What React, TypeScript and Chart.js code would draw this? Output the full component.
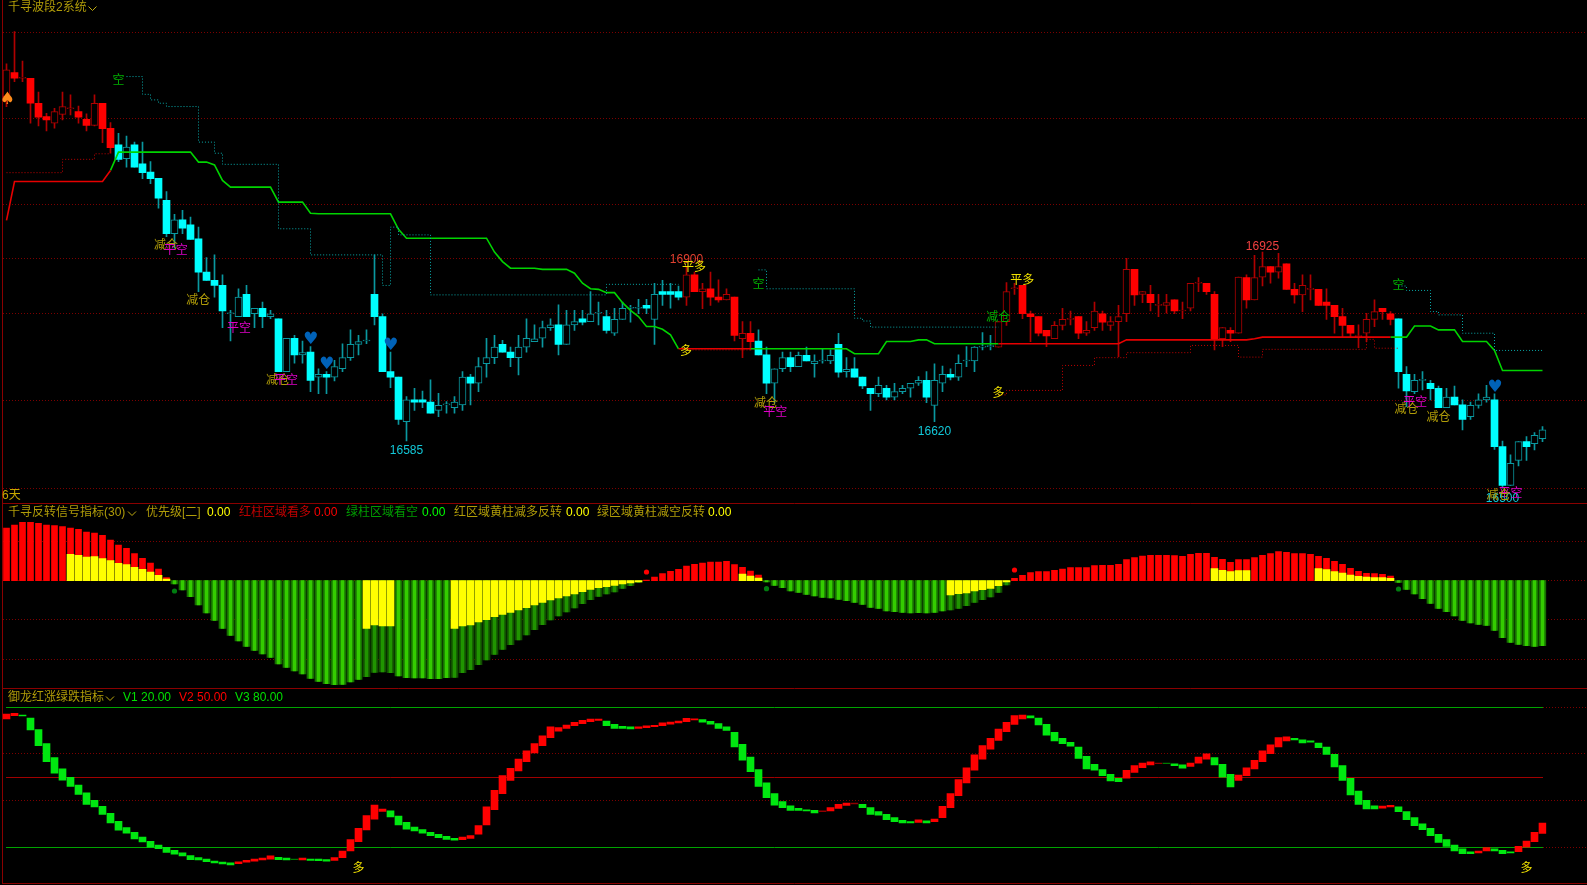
import React, { useEffect, useRef } from "react";
import { Chart, registerables } from "chart.js";

Chart.register(...registerables);

const opens = [17205,17248,17238,17238,17193,17169,17157,17173,17183,17178,17164,17153,17193,17148,17118,17093,17118,17084,17069,17058,17018,16958,16983,16974,16949,16889,16874,16865,16814,16809,16849,16814,16824,16809,16805,16710,16770,16740,16745,16700,16705,16700,16715,16735,16759,16765,16849,16809,16710,16700,16620,16659,16659,16655,16640,16650,16645,16650,16700,16689,16724,16735,16759,16745,16735,16754,16764,16770,16789,16794,16759,16794,16805,16800,16815,16809,16779,16804,16824,16824,16829,16804,16854,16854,16854,16844,16884,16854,16859,16844,16839,16844,16769,16779,16765,16740,16689,16715,16735,16719,16739,16724,16729,16729,16759,16710,16715,16700,16680,16670,16680,16664,16674,16680,16689,16694,16649,16689,16705,16700,16729,16729,16754,16755,16754,16800,16859,16865,16814,16809,16784,16769,16793,16804,16809,16779,16789,16814,16793,16800,16814,16894,16849,16849,16829,16829,16839,16819,16824,16869,16869,16849,16769,16784,16779,16879,16839,16880,16899,16889,16904,16858,16848,16858,16858,16835,16829,16809,16793,16773,16779,16804,16824,16814,16805,16705,16674,16694,16689,16680,16645,16664,16650,16629,16649,16659,16659,16575,16505,16550,16584,16580,16589];
const closes = [17253,17238,17238,17193,17168,17163,17178,17187,17183,17168,17153,17193,17147,17113,17092,17114,17078,17068,17057,17022,16958,16983,16968,16948,16889,16874,16865,16819,16814,16844,16809,16824,16809,16814,16710,16770,16740,16744,16694,16705,16700,16719,16735,16759,16764,16765,16809,16710,16700,16624,16659,16655,16655,16635,16649,16650,16655,16700,16689,16719,16735,16754,16745,16735,16754,16770,16769,16789,16794,16759,16794,16800,16799,16814,16815,16784,16804,16824,16824,16824,16824,16849,16849,16849,16844,16884,16854,16859,16844,16839,16849,16775,16779,16764,16740,16689,16715,16735,16719,16739,16729,16729,16729,16739,16709,16714,16700,16684,16670,16685,16664,16674,16680,16689,16694,16664,16694,16705,16700,16725,16729,16754,16754,16755,16800,16854,16859,16814,16809,16779,16774,16793,16804,16804,16779,16784,16819,16799,16800,16809,16894,16848,16854,16834,16829,16834,16819,16819,16869,16869,16854,16769,16789,16779,16880,16839,16879,16899,16889,16899,16858,16848,16865,16858,16829,16829,16809,16793,16779,16773,16804,16818,16818,16804,16710,16675,16694,16694,16679,16645,16664,16650,16624,16649,16659,16664,16575,16505,16545,16584,16575,16595,16605];
const highs = [17264,17322,17269,17238,17213,17175,17184,17213,17208,17188,17174,17208,17193,17158,17139,17134,17123,17123,17088,17058,17034,16993,17000,16988,16970,16915,16920,16884,16820,16859,16865,16824,16835,16820,16805,16770,16775,16765,16755,16715,16710,16730,16760,16785,16775,16785,16920,16814,16745,16700,16665,16680,16675,16695,16671,16656,16665,16710,16705,16735,16770,16775,16766,16754,16775,16805,16794,16801,16805,16830,16820,16820,16820,16854,16835,16820,16824,16835,16829,16840,16840,16869,16874,16869,16864,16899,16889,16869,16889,16875,16859,16844,16800,16800,16785,16754,16715,16745,16745,16745,16754,16740,16750,16749,16779,16735,16735,16700,16680,16700,16685,16689,16685,16689,16701,16710,16724,16720,16715,16740,16755,16755,16780,16775,16800,16870,16869,16865,16819,16809,16784,16800,16824,16819,16809,16800,16835,16819,16809,16829,16914,16894,16854,16865,16849,16849,16839,16835,16869,16879,16869,16854,16789,16789,16880,16884,16919,16925,16899,16923,16904,16869,16884,16884,16858,16859,16829,16824,16793,16794,16815,16839,16824,16818,16805,16719,16705,16710,16694,16684,16680,16684,16659,16655,16670,16685,16670,16585,16560,16584,16593,16600,16611];
const lows = [17187,17232,17232,17157,17152,17143,17148,17163,17172,17157,17143,17152,17122,17103,17088,17078,17078,17057,17048,17004,16953,16932,16958,16948,16854,16874,16844,16789,16765,16809,16809,16789,16789,16805,16710,16710,16725,16725,16674,16670,16670,16693,16710,16730,16740,16760,16794,16710,16681,16615,16585,16640,16645,16635,16629,16635,16635,16640,16650,16674,16700,16724,16745,16719,16704,16745,16764,16754,16784,16740,16759,16784,16794,16800,16794,16779,16775,16804,16799,16814,16814,16759,16829,16824,16839,16829,16854,16823,16829,16835,16839,16765,16735,16749,16740,16670,16653,16710,16710,16719,16729,16700,16725,16724,16700,16700,16700,16679,16640,16665,16659,16659,16670,16664,16685,16654,16620,16674,16695,16694,16719,16710,16749,16749,16754,16793,16849,16805,16764,16774,16755,16769,16785,16794,16769,16775,16784,16784,16784,16737,16800,16829,16834,16819,16809,16815,16814,16805,16819,16854,16849,16749,16755,16764,16779,16824,16839,16864,16869,16878,16858,16833,16818,16839,16829,16804,16779,16773,16773,16753,16764,16791,16804,16794,16680,16647,16670,16677,16659,16645,16645,16650,16605,16624,16644,16655,16570,16500,16505,16540,16550,16569,16584];

// Stretches during which the candles are painted in the bullish (red) colours.
const bullishStretches = [[0, 13], [85, 93], [124, 173]];

const greenLineRuns = [[13,13,17072],[14,23,17105],[24,25,17087],[26,26,17082],[27,27,17054],[28,33,17042],[34,37,17015],[38,38,16995],[39,48,16994],[49,49,16966],[50,60,16950],[61,61,16925],[62,62,16908],[63,66,16896],[67,70,16894],[71,71,16887],[72,72,16869],[73,73,16859],[74,74,16858],[75,76,16852],[77,77,16834],[78,78,16820],[79,79,16809],[80,81,16791],[82,82,16786],[83,83,16776],[84,84,16751],[93,105,16751],[106,109,16742],[110,113,16764],[114,115,16767],[116,124,16760],[173,175,16772],[176,178,16792],[179,181,16785],[182,185,16764],[186,186,16748],[187,192,16712]];
const redLineRuns = [[0,0,16982],[1,12,17052],[13,13,17072],[84,93,16751],[124,139,16760],[140,155,16767],[156,156,16769],[157,173,16772]];
const tealDotRuns = [[15,16,17241],[17,17,17209],[18,18,17199],[19,19,17193],[20,23,17187],[24,25,17123],[26,26,17103],[27,33,17083],[34,37,16967],[38,46,16920],[47,47,16865],[48,48,16970],[49,52,16956],[53,74,16848],[75,84,16867],[94,94,16893],[95,105,16859],[106,106,16806],[107,107,16801],[108,124,16790],[174,174,16864],[175,177,16856],[178,178,16818],[179,181,16812],[182,185,16779],[186,192,16748]];
const redDotRuns = [[0,6,17068],[7,10,17092],[11,13,17102],[85,93,16749],[124,124,16668],[125,131,16676],[132,135,16721],[136,139,16735],[140,147,16744],[148,153,16757],[154,156,16736],[157,169,16750],[170,170,16768],[171,174,16752]];

const priceGrid = [17321, 17166, 17010, 16913, 16815, 16657, 16500];

const reversalValues = [158,167,175,175,172,167,165,162,158,154,146,143,136,122,107,97,81,67,53,35,9,-10,-28,-48,-73,-97,-119,-143,-164,-181,-197,-209,-220,-230,-250,-260,-271,-280,-293,-302,-309,-312,-311,-304,-296,-288,-275,-274,-276,-286,-291,-292,-292,-294,-294,-291,-290,-276,-267,-252,-238,-221,-206,-192,-178,-163,-147,-132,-118,-106,-94,-82,-69,-57,-47,-40,-34,-23,-15,-5,2,11,21,28,34,44,49,53,56,56,58,48,40,29,17,-4,-14,-21,-31,-35,-41,-46,-50,-52,-56,-60,-65,-71,-80,-83,-91,-93,-95,-97,-96,-97,-95,-91,-88,-83,-75,-65,-57,-49,-35,-13,7,16,24,27,27,31,35,39,39,39,45,46,46,49,63,69,74,76,76,76,75,73,79,82,82,70,64,55,63,63,69,76,81,87,85,81,81,79,73,67,58,49,37,28,22,21,19,14,-5,-26,-40,-54,-68,-83,-93,-106,-119,-127,-131,-134,-149,-171,-185,-191,-195,-197,-195];
const yellowStretches = [
  [8, [79,76,71,72,66,60,52,48,40,34,26,16,5]],
  [45, [-143,-133,-136,-136]],
  [56, [-143,-136,-133,-124,-117,-108,-101,-95,-88,-81,-73,-65,-58,-52,-46,-40,-33,-26,-21,-18,-14,-10,-7,-4]],
  [92, [20,14,8]],
  [118, [-43,-39,-37,-31,-27,-23,-15,-4]],
  [151, [36,31,27,30,30]],
  [164, [36,33,27,23,17,13,11,9,9,7]],
];
const reversalGrid = [119, 0, -117, -237];
const redDots = [[80, 26], [126, 32]];
const greenDots = [[21, -31], [95, -24], [174, -25]];

const momentumOpen = [75.0,76.4,76.7,75.4,70.4,64.4,58.4,53.6,50.0,46.7,43.3,40.1,37.6,34.6,31.1,28.4,26.4,24.4,22.6,21.0,20.0,18.7,17.6,16.4,15.6,15.0,14.1,13.7,13.3,13.0,13.6,14.1,14.6,14.9,15.7,15.4,15.0,14.6,15.0,14.9,14.7,14.4,15.6,18.4,22.4,27.4,32.1,35.4,35.6,33.4,30.7,28.7,27.6,26.4,25.6,24.7,23.8,23.3,23.8,25.6,29.6,36.1,43.0,48.7,52.7,56.7,60.4,63.6,67.0,69.8,71.0,72.1,73.0,73.8,74.4,74.1,72.7,71.8,71.6,71.0,71.3,71.7,72.1,72.8,73.3,73.8,74.6,74.7,74.0,73.0,71.6,69.3,64.1,58.7,53.3,47.6,43.0,39.6,37.8,36.7,36.1,35.8,35.3,35.6,36.7,37.9,38.6,38.4,37.0,35.3,34.1,32.7,31.6,31.0,30.7,31.3,31.0,32.7,37.0,42.1,47.6,53.0,57.8,62.1,65.8,69.6,72.7,75.0,76.3,75.4,72.7,69.3,66.7,65.0,63.0,59.0,55.6,53.3,51.3,49.6,49.6,52.1,54.1,55.3,55.8,56.1,55.8,55.3,54.7,56.1,57.8,58.4,55.6,51.3,48.7,50.7,53.6,56.7,60.1,63.0,65.6,66.7,66.1,65.6,64.7,63.0,59.8,55.0,49.6,44.1,40.1,37.8,36.8,37.3,37.3,35.3,32.7,30.1,28.1,25.6,23.3,21.0,19.3,18.1,17.6,18.4,19.3,18.7,18.1,18.1,20.1,22.4,25.9];
const momentumClose = [77.1,77.4,76.3,70.3,63.6,56.7,51.8,48.8,46.1,42.7,38.4,37.3,34.1,30.4,27.3,26.1,23.6,22.3,20.1,19.4,17.8,17.0,16.3,14.7,14.6,13.8,13.3,12.9,12.4,13.8,14.4,15.0,15.4,16.3,14.7,14.6,14.7,15.4,14.4,14.3,14.1,15.6,18.4,23.3,28.1,33.6,38.1,36.4,33.0,29.6,27.8,27.0,26.1,25.0,24.1,23.4,23.0,24.4,25.0,29.3,37.3,44.4,50.7,53.8,57.8,61.3,64.4,67.8,71.6,71.3,72.4,73.6,74.4,75.0,75.0,72.1,71.0,71.0,70.7,71.6,72.1,72.3,73.3,73.7,74.1,75.3,75.1,73.6,72.8,71.0,70.1,63.0,57.3,52.4,46.1,41.3,38.1,37.0,35.8,35.8,35.6,34.7,35.6,37.0,38.4,39.0,38.9,37.0,34.1,33.8,31.8,31.0,30.4,30.4,31.8,30.4,32.1,37.6,43.0,49.0,54.1,59.6,63.6,66.7,70.7,73.6,76.4,76.7,75.4,72.4,68.1,65.6,64.4,63.3,58.1,53.6,53.0,50.7,48.4,48.1,53.0,55.0,56.1,56.6,56.1,55.8,55.0,53.9,56.1,58.7,60.1,55.3,50.1,45.9,51.0,54.1,57.3,61.3,63.9,67.0,67.3,66.0,64.7,65.1,62.7,59.8,54.4,48.7,42.4,38.4,36.4,36.4,37.7,38.0,35.3,31.8,29.3,27.6,25.0,22.1,20.4,18.4,17.3,17.3,18.4,19.9,18.4,17.3,17.6,20.4,22.7,26.4,30.4];
const momentumSolid = [[80, "#00a400"], [50, "#a00000"], [20, "#00a400"]];
const momentumDotted = [60, 40];

const PRICE = { range: [15785.8, 17378.8] };
const OLIVE = "#b09c08";
const YELLOW = "#f0e000";
const MAGENTA = "#e000c8";
const SIGNAL_GREEN = "#00b000";
const CYAN_TEXT = "#12c8d8";

const priceTexts = [
  [50, 16568, "16585", CYAN_TEXT], [116, 16602, "16620", CYAN_TEXT], [187, 16482, "16500", CYAN_TEXT],
  [157, 16935, "16925", "#f04040"], [85, 16911, "16900", "#e04030"],
];
const signalTexts = [
  [14, 17235, "空", SIGNAL_GREEN], [19.94, 16938, "减仓", OLIVE], [21.15, 16929, "平空", MAGENTA],
  [23.98, 16839, "减仓", OLIVE], [29.06, 16789, "平空", MAGENTA], [33.94, 16695, "减仓", OLIVE],
  [34.94, 16695, "平空", MAGENTA], [85.94, 16900, "平多", YELLOW], [94, 16869, "空", SIGNAL_GREEN],
  [84.94, 16748, "多", YELLOW], [94.94, 16655, "减仓", OLIVE], [96.1, 16639, "平空", MAGENTA],
  [123.97, 16810, "减仓", SIGNAL_GREEN], [126.97, 16876, "平多", YELLOW], [124, 16672, "多", YELLOW],
  [174, 16867, "空", SIGNAL_GREEN], [175, 16644, "减仓", OLIVE], [176.1, 16656, "平空", MAGENTA],
  [179, 16630, "减仓", OLIVE], [188, 16492, "平空", MAGENTA], [186.5, 16488, "减仓", OLIVE],
];
const heartMarks = [[38.03, 16767], [40.03, 16722], [48.03, 16757], [186.06, 16682]];
const spadeMarks = [[0.1, 17199]];
const momentumTexts = [[44, 11.4, "多"], [190, 11.4, "多"]];

const headerRow2 = [
  [8, "千寻反转信号指标(30)", OLIVE], [146, "优先级[二]", OLIVE], [207, "0.00", "#ffff00"],
  [239, "红柱区域看多", "#c00000"], [314, "0.00", "#ff0000"], [346, "绿柱区域看空", "#009c00"],
  [422, "0.00", "#00ff00"], [454, "红区域黄柱减多反转", OLIVE], [566, "0.00", "#ffff00"],
  [597, "绿区域黄柱减空反转", OLIVE], [708, "0.00", "#ffff00"],
];
const headerRow3 = [
  [8, "御龙红涨绿跌指标", OLIVE], [123, "V1 20.00", "#00e000"], [179, "V2 50.00", "#ff0000"], [235, "V3 80.00", "#00e000"],
];

const COUNT = opens.length;
const labels = opens.map((_, i) => String(i));

function expand(runs: number[][]) {
  const out: (number | null)[] = new Array(COUNT).fill(null);
  runs.forEach(([from, to, v]) => { for (let i = from; i <= to; i++) out[i] = v; });
  return out;
}
function sparse(points: number[][]) {
  const out: (number | null)[] = new Array(COUNT).fill(null);
  points.forEach(([i, v]) => { out[i] = v; });
  return out;
}
const yellowValues: number[] = new Array(COUNT).fill(0);
yellowStretches.forEach(([start, vals]: any) => vals.forEach((v: number, k: number) => { yellowValues[start + k] = v; }));

const isBull = (i: number) => bullishStretches.some(([a, b]) => i >= a && i <= b);
const isHollow = (i: number) => closes[i] >= opens[i];
const edge = (i: number) => (isBull(i) ? "#b00000" : "#0a98a0");
const fill = (i: number) => (isBull(i) ? "#ff0000" : "#00ffff");

const greenShade = (i: number, light: boolean) =>
  yellowValues[i] !== 0 ? (light ? "#209400" : "#114f00") : light ? "#34cc00" : "#167000";

const headerPlugin = {
  id: "terminalChrome",
  beforeDatasetsDraw(chart: any) {
    const { ctx, scales, width } = chart;
    const crisp = (v: number) => Math.floor(v) + 0.5;
    const line = (x0: number, x1: number, y: number, color: string, dash: number[]) => {
      ctx.save();
      ctx.strokeStyle = color;
      ctx.lineWidth = 1;
      ctx.setLineDash(dash);
      ctx.beginPath();
      ctx.moveTo(x0, y);
      ctx.lineTo(x1, y);
      ctx.stroke();
      ctx.restore();
    };
    const dot = [1, 2];
    priceGrid.forEach((p) => line(3, width, crisp(scales.y.getPixelForValue(p)), "#7c0000", dot));
    reversalGrid.forEach((p) => line(3, width, crisp(scales.y2.getPixelForValue(p)), "#7c0000", dot));
    momentumDotted.forEach((p) => line(3, width, crisp(scales.y3.getPixelForValue(p)), "#7c0000", dot));
    momentumSolid.forEach(([p, c]: any) => {
      const y = crisp(scales.y3.getPixelForValue(p));
      line(6, 1543, y, c, []);
      if (p !== 50) line(1543, width, y, "#7c0000", dot);
    });
    [503, 688, 883].forEach((y) => line(2, width, y + 0.5, "#8a0000", []));
    ctx.save();
    ctx.strokeStyle = "#8a0000";
    ctx.beginPath();
    ctx.moveTo(2.5, 0);
    ctx.lineTo(2.5, 884);
    ctx.stroke();
    ctx.restore();
  },
  afterDatasetsDraw(chart: any) {
    const { ctx, scales } = chart;
    const sans = '12px "Noto Sans CJK SC"';
    const digits = '12px "Liberation Sans", "Noto Sans CJK SC"';
    ctx.save();
    ctx.textBaseline = "middle";
    ctx.textAlign = "center";
    const xAt = (i: number) => scales.x.getPixelForValue(i);
    priceTexts.forEach(([i, p, t, c]: any) => {
      ctx.font = digits; ctx.fillStyle = c;
      ctx.fillText(t, xAt(i), scales.y.getPixelForValue(p));
    });
    signalTexts.forEach(([i, p, t, c]: any) => {
      ctx.font = sans; ctx.fillStyle = c;
      ctx.fillText(t, xAt(i), scales.y.getPixelForValue(p));
    });
    momentumTexts.forEach(([i, v, t]: any) => {
      ctx.font = sans; ctx.fillStyle = YELLOW;
      ctx.fillText(t, xAt(i), scales.y3.getPixelForValue(v));
    });
    ctx.font = '17px "DejaVu Sans"';
    ctx.fillStyle = "#0062b8";
    heartMarks.forEach(([i, p]) => ctx.fillText("♥", xAt(i), scales.y.getPixelForValue(p)));
    ctx.fillStyle = "#ff8c1a";
    spadeMarks.forEach(([i, p]) => ctx.fillText("♠", xAt(i), scales.y.getPixelForValue(p)));

    ctx.textAlign = "left";
    ctx.font = digits;
    ctx.fillStyle = "#c8a800";
    ctx.fillText("6天", 2, 495.5);
    ctx.fillStyle = OLIVE;
    ctx.fillText("千寻波段2系统", 8, 8);
    headerRow2.forEach(([x, t, c]: any) => { ctx.fillStyle = c; ctx.fillText(t, x, 512.5); });
    headerRow3.forEach(([x, t, c]: any) => { ctx.fillStyle = c; ctx.fillText(t, x, 697.5); });

    ctx.strokeStyle = "#c0ac10";
    ctx.lineWidth = 1;
    [[92.5, 8.5], [132, 513.5], [110, 698.5]].forEach(([x, y]) => {
      ctx.beginPath();
      ctx.moveTo(x - 4, y - 2);
      ctx.lineTo(x, y + 2);
      ctx.lineTo(x + 4, y - 2);
      ctx.stroke();
    });
    ctx.restore();
  },
};

const lineSet = (data: any, color: string, width: number, dash: number[], stepped: boolean) => ({
  type: "line" as const,
  data,
  yAxisID: "y",
  borderColor: color,
  borderWidth: width,
  borderDash: dash,
  stepped,
  tension: 0,
  pointRadius: 0,
  spanGaps: false,
  order: 5,
});

export default function App() {
  const ref = useRef<HTMLCanvasElement>(null);
  useEffect(() => {
    const chart = new Chart(ref.current as any, {
      type: "bar",
      data: {
        labels,
        datasets: [
          { data: highs.map((h, i) => [lows[i], h]), yAxisID: "y", grouped: false, barThickness: 1, backgroundColor: labels.map((_, i) => edge(i)), order: 10 },
          {
            data: opens.map((o, i) => [o, closes[i]]), yAxisID: "y", grouped: false, barThickness: 7, minBarLength: 1,
            backgroundColor: labels.map((_, i) => (isHollow(i) ? "#000000" : fill(i))),
            borderColor: labels.map((_, i) => (isHollow(i) ? edge(i) : fill(i))),
            borderWidth: labels.map((_, i) => (isHollow(i) ? 1 : 0)),
            borderSkipped: false, order: 9,
          },
          lineSet(expand(redDotRuns), "#c00000", 1, [1, 2], true),
          lineSet(expand(tealDotRuns), "#08a8a8", 1, [1, 2], true),
          lineSet(expand(redLineRuns), "#e60000", 1.6, [], false),
          lineSet(expand(greenLineRuns), "#00d400", 1.6, [], false),

          { data: reversalValues.map((v) => (v > 0 ? [0, v] : null)), yAxisID: "y2", grouped: false, barThickness: 6,
            backgroundColor: "#ff0000", order: 9 },
          { data: reversalValues.map((v) => (v < 0 ? [0, v] : null)), yAxisID: "y2", grouped: false, barThickness: 7,
            backgroundColor: reversalValues.map((_, i) => greenShade(i, false)), order: 9 },
          { data: reversalValues.map((v) => (v < 0 ? [0, v] : null)), yAxisID: "y2", grouped: false, barThickness: 3,
            backgroundColor: reversalValues.map((_, i) => greenShade(i, true)), order: 8 },
          { data: yellowValues.map((v) => (v !== 0 ? [0, v] : null)), yAxisID: "y2", grouped: false, barThickness: 7,
            backgroundColor: "#ffff00", order: 7 },
          { type: "line", data: sparse(redDots), yAxisID: "y2", showLine: false, pointRadius: 2.6, pointBackgroundColor: "#ff0000", pointBorderWidth: 0, order: 6 },
          { type: "line", data: sparse(greenDots), yAxisID: "y2", showLine: false, pointRadius: 2.6, pointBackgroundColor: "#007c10", pointBorderWidth: 0, order: 6 },

          { data: momentumOpen.map((o, i) => [o, momentumClose[i]]), yAxisID: "y3", grouped: false, barThickness: 7,
            backgroundColor: momentumOpen.map((o, i) => {
              const up = momentumClose[i] > o;
              const thin = Math.abs(momentumClose[i] - o) < 0.4;
              return up ? (thin ? "#900000" : "#ff0000") : thin ? "#007a00" : "#00e810";
            }), order: 9 },
        ] as any,
      },
      options: {
        responsive: false,
        animation: false,
        events: [],
        layout: { autoPadding: false, padding: { left: 2.5, right: 40.5, top: 0, bottom: 0 } },
        plugins: { legend: { display: false }, tooltip: { enabled: false } },
        scales: {
          x: { type: "category", display: false, offset: true },
          y: { type: "linear", display: false, min: PRICE.range[0], max: PRICE.range[1] },
          y2: { type: "linear", display: false, min: -913, max: 1742 },
          y3: { type: "linear", display: false, min: 3.84, max: 383.13 },
        },
      } as any,
      plugins: [headerPlugin],
    });
    return () => chart.destroy();
  }, []);
  return (
    <div style={{ position: "fixed", inset: 0, background: "#000", overflow: "hidden" }}>
      <canvas ref={ref} width={1587} height={885} style={{ display: "block", width: 1587, height: 885 }} />
    </div>
  );
}
